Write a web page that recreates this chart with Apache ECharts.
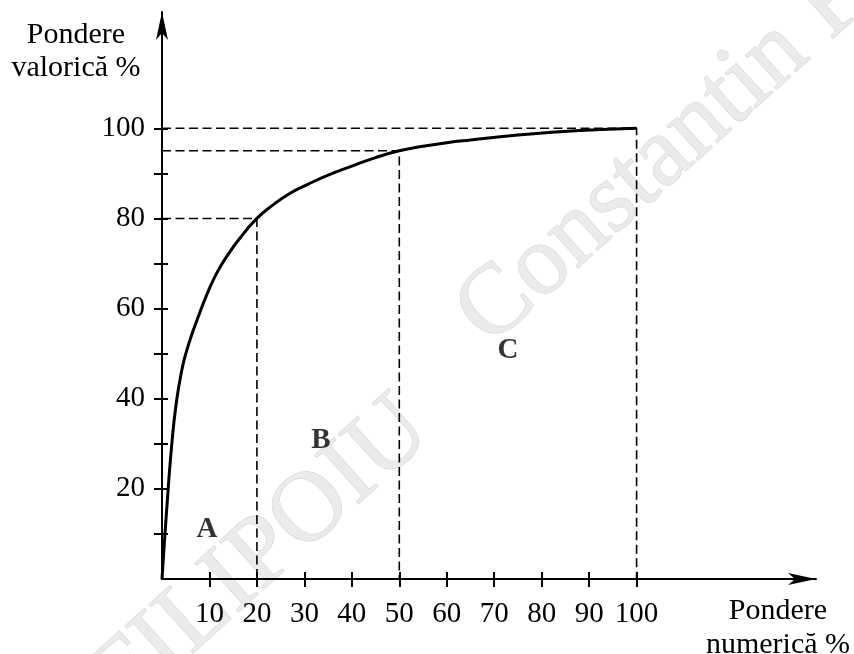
<!DOCTYPE html>
<html>
<head>
<meta charset="utf-8">
<script src="https://cdn.jsdelivr.net/npm/echarts@6/dist/echarts.min.js"></script>
<style>
html,body{margin:0;padding:0;background:#fff;}
#chart{width:854px;height:654px;}
</style>
</head>
<body>
<div id="chart"></div>
<script>
// ---- data ----
const curveX = [0, 0.5, 1.1, 1.9, 3.0, 4.3, 5.3, 6.3, 7.4, 9.4, 11.5, 13.6, 16.4, 20, 23.4, 27, 30.8, 35, 40, 45, 50, 55, 60, 65, 75, 88, 100];
const curveY = [0, 8, 17, 28, 39, 47, 51, 54.3, 57.5, 63, 67.8, 71.5, 75.6, 80, 83.0, 85.6, 87.6, 89.6, 91.6, 93.5, 95, 96, 96.8, 97.4, 98.5, 99.5, 100];
const guideX = [20, 50, 100];
const guideY = [80, 95, 100];
const xTickValues = [10, 20, 30, 40, 50, 60, 70, 80, 90, 100];
const yTickValues = [10, 20, 30, 40, 50, 60, 70, 80, 90, 100];
const yLabelValues = [20, 40, 60, 80, 100];
const zoneNames = ['A', 'B', 'C'];
const zoneX = [9.5, 33.5, 72.9];
const zoneY = [10.9, 30.8, 50.8];
const yAxisTitle = 'Pondere\nvaloric\u0103 %';
const xAxisTitle = 'Pondere\nnumeric\u0103 %';
const watermarkWords = ['FILIPOIU', 'Constantin F'];

// ---- chart ----
const FONT = '"Liberation Serif", "Times New Roman", serif';
const chart = echarts.init(document.getElementById('chart'), null, {renderer: 'canvas'});

const xMax = 137.8, yMax = 125.8;

function baseAxis(max, extra) {
  return Object.assign({
    type: 'value', min: 0, max: max, interval: 10,
    splitLine: {show: false}
  }, extra);
}

const WM_ROT = 42 * Math.PI / 180;
const wmStyle = {fontFamily: FONT, fontSize: 100, fill: '#ebebeb', stroke: '#d0d0d0',
  lineWidth: 1, align: 'left', verticalAlign: 'middle'};

const option = {
  backgroundColor: '#fff',
  animation: false,
  grid: {left: 162, right: 38, top: 12, bottom: 75, containLabel: false, outerBoundsMode: 'none'},
  xAxis: [
    baseAxis(xMax, {
      position: 'bottom',
      axisLine: {show: true, onZero: false, lineStyle: {color: '#000', width: 2},
        symbol: ['none', 'arrow'], symbolSize: [9, 28]},
      axisTick: {show: true, inside: false, length: 8, lineStyle: {color: '#000', width: 2}, customValues: xTickValues},
      axisLabel: {show: true, customValues: xTickValues, margin: 21, color: '#000', fontFamily: FONT, fontSize: 29}
    }),
    baseAxis(xMax, {
      position: 'bottom',
      axisLine: {show: false},
      axisTick: {show: true, inside: true, length: 7, lineStyle: {color: '#000', width: 2}, customValues: xTickValues},
      axisLabel: {show: false}
    })
  ],
  yAxis: [
    baseAxis(yMax, {
      position: 'left',
      axisLine: {show: true, onZero: false, lineStyle: {color: '#000', width: 2},
        symbol: ['none', 'arrow'], symbolSize: [9, 28]},
      axisTick: {show: true, inside: false, length: 8, lineStyle: {color: '#000', width: 2}, customValues: yTickValues},
      axisLabel: {show: true, customValues: yLabelValues, margin: 17,
        color: '#000', fontFamily: FONT, fontSize: 29}
    }),
    baseAxis(yMax, {
      position: 'left',
      axisLine: {show: false},
      axisTick: {show: true, inside: true, length: 6, lineStyle: {color: '#000', width: 2}, customValues: yTickValues},
      axisLabel: {show: false}
    })
  ],
  graphic: [
    {
      type: 'text', z: -10, silent: true,
      x: 107, y: 695, rotation: WM_ROT,
      style: Object.assign({text: watermarkWords[0]}, wmStyle)
    },
    {
      type: 'text', z: -10, silent: true,
      x: 472, y: 328, rotation: WM_ROT,
      style: Object.assign({text: watermarkWords[1]}, wmStyle)
    },
    {
      type: 'text', x: 76, y: 52,
      style: {text: yAxisTitle, fontFamily: FONT, fontSize: 30, lineHeight: 33,
        fill: '#000', align: 'center', verticalAlign: 'middle'}
    },
    {
      type: 'text', x: 778, y: 628,
      style: {text: xAxisTitle, fontFamily: FONT, fontSize: 30, lineHeight: 34,
        fill: '#000', align: 'center', verticalAlign: 'middle'}
    }
  ],
  series: [
    ...guideX.map((gx, i) => ({
      type: 'line', xAxisIndex: 0, yAxisIndex: 0, z: 3,
      showSymbol: false, silent: true,
      data: [[0, guideY[i]], [gx, guideY[i]], [gx, 0]],
      lineStyle: {color: '#000', width: 1.6, type: [9, 4.5]}
    })),
    {
      type: 'line', xAxisIndex: 0, yAxisIndex: 0, z: 4,
      showSymbol: false, smooth: 0.5,
      data: curveX.map((x, i) => [x, curveY[i]]),
      lineStyle: {color: '#000', width: 3}
    },
    {
      type: 'scatter', xAxisIndex: 0, yAxisIndex: 0, z: 5,
      symbolSize: 1, itemStyle: {color: 'rgba(0,0,0,0)'},
      data: zoneX.map((x, i) => [x, zoneY[i], zoneNames[i]]),
      label: {show: true, position: 'inside', formatter: p => p.data[2],
        color: '#000', fontFamily: FONT, fontSize: 29, fontWeight: 'bold'}
    }
  ]
};
chart.setOption(option);
</script>
</body>
</html>
